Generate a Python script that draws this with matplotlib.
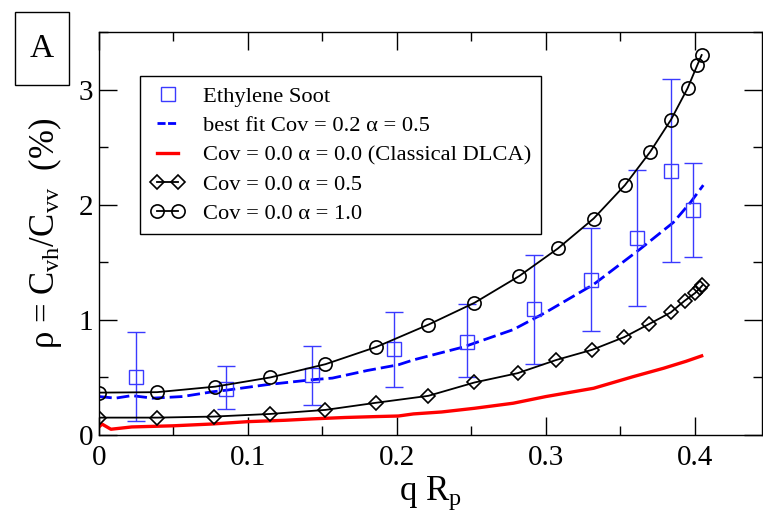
import matplotlib
matplotlib.use("Agg")
import matplotlib.pyplot as plt
from matplotlib.lines import Line2D
from matplotlib.legend_handler import HandlerLine2D
from matplotlib.patches import Rectangle
from matplotlib.ticker import MultipleLocator

plt.rcParams["font.family"] = ["Liberation Serif", "DejaVu Serif"]
plt.rcParams["mathtext.fontset"] = "custom"
plt.rcParams["mathtext.rm"] = "Liberation Serif"
plt.rcParams["mathtext.it"] = "Liberation Serif:italic"

# Ethylene soot measurements with error bars
soot_x = [0.025, 0.085, 0.143, 0.198, 0.247, 0.292, 0.330, 0.361, 0.384, 0.399]
soot_y = [0.508, 0.397, 0.523, 0.747, 0.81, 1.093, 1.35, 1.715, 2.295, 1.955]
soot_lo = [0.125, 0.227, 0.261, 0.421, 0.50, 0.615, 0.906, 1.12, 1.50, 1.546]
soot_hi = [0.895, 0.60, 0.776, 1.066, 1.14, 1.56, 1.80, 2.30, 3.09, 2.36]

# best fit Cov = 0.2, alpha = 0.5
fit_x = [0.0, 0.011, 0.022, 0.036, 0.056, 0.076, 0.086, 0.112, 0.143, 0.1566,
         0.18, 0.201, 0.211, 0.2445, 0.278, 0.2993, 0.332, 0.363, 0.3855, 0.397, 0.4056]
fit_y = [0.334, 0.32, 0.342, 0.32, 0.334, 0.375, 0.39, 0.436, 0.48, 0.494,
         0.56, 0.61, 0.652, 0.764, 0.915, 1.061, 1.308, 1.613, 1.846, 2.02, 2.17]

# classical DLCA
red_x = [0.0, 0.002, 0.008, 0.022, 0.05, 0.075, 0.1, 0.125, 0.143, 0.165, 0.186,
         0.201, 0.211, 0.23, 0.252, 0.278, 0.30, 0.332, 0.3586, 0.379, 0.394, 0.4045]
red_y = [0.07, 0.095, 0.05, 0.07, 0.08, 0.095, 0.116, 0.128, 0.14, 0.152, 0.16,
         0.165, 0.183, 0.2, 0.232, 0.276, 0.334, 0.406, 0.507, 0.58, 0.64, 0.687]

# Cov = 0.0, alpha = 0.5
diam_x = [0.0, 0.039, 0.077, 0.115, 0.152, 0.186, 0.221, 0.252, 0.281, 0.307,
          0.331, 0.3525, 0.369, 0.3837, 0.393, 0.400, 0.4034, 0.405]
diam_y = [0.151, 0.151, 0.16, 0.183, 0.218, 0.28, 0.34, 0.456, 0.537, 0.652,
          0.74, 0.85, 0.962, 1.064, 1.165, 1.232, 1.276, 1.30]

# Cov = 0.0, alpha = 1.0
circ_x = [0.0, 0.039, 0.078, 0.115, 0.152, 0.186, 0.221, 0.252, 0.282, 0.308,
          0.332, 0.353, 0.370, 0.384, 0.395, 0.4015, 0.4045]
circ_y = [0.368, 0.372, 0.42, 0.50, 0.615, 0.764, 0.958, 1.148, 1.38, 1.62,
          1.88, 2.17, 2.46, 2.74, 3.01, 3.21, 3.30]

labels = [
    "Ethylene Soot",
    "best fit Cov = 0.2 α = 0.5",
    "Cov = 0.0 α = 0.0 (Classical DLCA)",
    "Cov = 0.0 α = 0.5",
    "Cov = 0.0 α = 1.0",
]

fig = plt.figure(figsize=(7.63, 5.21), dpi=100)
ax = fig.add_axes([99 / 763, 86 / 521, 663 / 763, 403 / 521])

soot_blue = "#3a3aff"
yerr = [[y - lo for y, lo in zip(soot_y, soot_lo)],
        [hi - y for y, hi in zip(soot_y, soot_hi)]]
ax.errorbar(soot_x, soot_y, yerr=yerr, fmt="s", color=soot_blue, ecolor=soot_blue,
            elinewidth=1.0, capsize=6.5, capthick=1.0, markersize=10.5,
            markerfacecolor="none", markeredgewidth=1.0, zorder=3)

ax.plot(fit_x, fit_y, color="#0000ff", lw=2.0, ls=(0, (4.6, 1.8)), zorder=2)
ax.plot(red_x, red_y, color="#ff0000", lw=2.4, zorder=2)
ax.plot(diam_x, diam_y, color="black", lw=1.3, marker="D", markersize=7.5,
        markerfacecolor="none", markeredgewidth=1.2, zorder=4)
ax.plot(circ_x, circ_y, color="black", lw=1.3, marker="o", markersize=9.5,
        markerfacecolor="none", markeredgewidth=1.2, zorder=4)

ax.set_xlim(0, 0.445)
ax.set_ylim(0, 3.5)
ax.xaxis.set_minor_locator(MultipleLocator(0.05))
ax.yaxis.set_minor_locator(MultipleLocator(0.5))
ax.set_xticks([0, 0.1, 0.2, 0.3, 0.4], ["0", "0.1", "0.2", "0.3", "0.4"])
ax.set_yticks([0, 1, 2, 3], ["0", "1", "2", "3"])
ax.tick_params(which="both", direction="in", top=True, right=True, width=1.0,
               labelsize=21)
ax.tick_params(which="major", length=13)
ax.tick_params(which="minor", length=6.5)
ax.tick_params(axis="x", pad=7)
ax.tick_params(axis="y", pad=4)
for spine in ax.spines.values():
    spine.set_linewidth(1.0)

ax.set_xlabel(r"q R$_\mathrm{p}$", fontsize=25, labelpad=3)
ax.set_ylabel(r"ρ = C$_\mathrm{vh}$/C$_\mathrm{vv}$  (%)", fontsize=25, labelpad=11)

# legend handles (dash pattern of the handle gets scaled by lw once more)
sq_handle = Line2D([], [], ls="none", marker="s", markersize=10.5, color=soot_blue,
                   markerfacecolor="none", markeredgewidth=1.0)
fit_handle = Line2D([], [], color="#0000ff", lw=2.0, ls=(0, (2.9, 0.9)))
red_handle = Line2D([], [], color="#ff0000", lw=2.4)
diam_handle = Line2D([], [], color="black", lw=1.3, marker="D", markersize=7.5,
                     markerfacecolor="none", markeredgewidth=1.2)
circ_handle = Line2D([], [], color="black", lw=1.3, marker="o", markersize=9.5,
                     markerfacecolor="none", markeredgewidth=1.2)

leg = ax.legend(
    [sq_handle, fit_handle, red_handle, diam_handle, circ_handle],
    labels,
    loc="upper left",
    bbox_to_anchor=(41 / 663, 359 / 403),
    borderaxespad=0,
    fontsize=16.2,
    numpoints=2,
    handlelength=1.55,
    handletextpad=0.8,
    labelspacing=0.38,
    borderpad=0.45,
    fancybox=False,
    framealpha=1,
    edgecolor="black",
    handler_map={sq_handle: HandlerLine2D(numpoints=1)},
)
leg.get_frame().set_linewidth(1.0)
leg.set_zorder(10)

# panel tag "A"
fig.patches.append(Rectangle((15 / 763, 1 - 85 / 521), 54 / 763, 73 / 521,
                             transform=fig.transFigure, fill=False,
                             edgecolor="black", lw=1.0))
fig.text(42 / 763, 1 - 49 / 521, "A", fontsize=24, ha="center", va="center")

fig.savefig("out.png", dpi=100)
